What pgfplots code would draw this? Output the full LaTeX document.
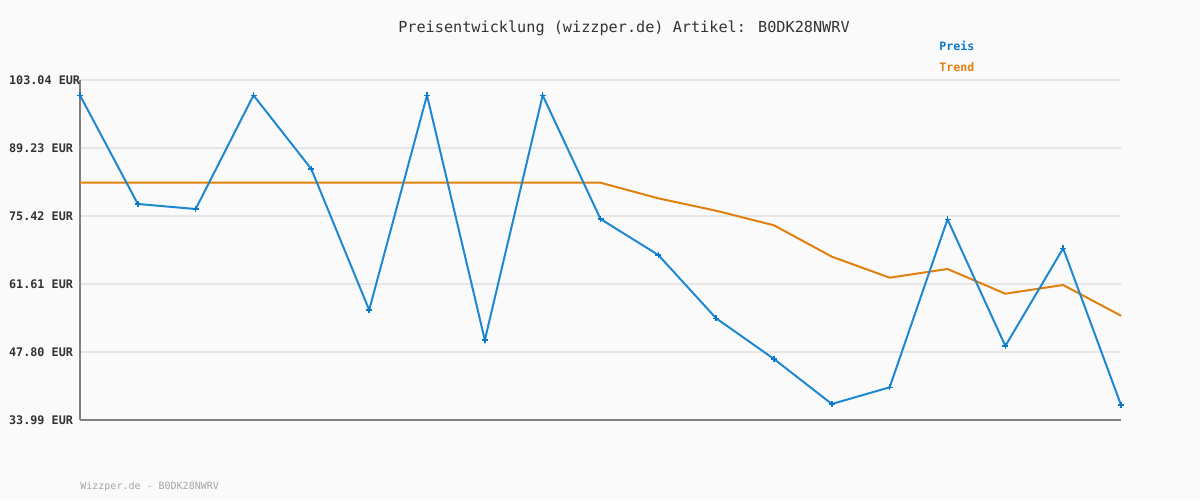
\documentclass[border=0pt]{standalone}
\usepackage{fontspec}
\usepackage{pgfplots}
\pgfplotsset{compat=1.18}
\newfontfamily\mono{DejaVu Sans Mono}
\definecolor{bg}{HTML}{FAFAFA}
\definecolor{gridc}{HTML}{E6E6E6}
\definecolor{axc}{HTML}{808080}
\definecolor{preis}{HTML}{1E88D2}
\definecolor{preislab}{HTML}{0A7AC8}
\definecolor{trend}{HTML}{E0800F}
\definecolor{txt}{HTML}{333333}
\begin{document}
\begin{tikzpicture}
\fill[bg] (0,0) rectangle (600pt,250pt);
\begin{axis}[
  at={(40pt,40pt)}, anchor=south west,
  scale only axis, width=520.5pt, height=170pt,
  xmin=0, xmax=18, ymin=33.99, ymax=103.04,
  clip=false,
  axis x line*=bottom, axis y line*=left,
  axis line style={axc, line width=1.2pt},
  x axis line style={-}, y axis line style={-},
  xtick=\empty,
  ytick={33.99,47.80,61.61,75.42,89.23,103.04},
  yticklabels={33.99 EUR,47.80 EUR,61.61 EUR,75.42 EUR,89.23 EUR,103.04 EUR},
  yticklabel style={anchor=west, xshift=-39pt, font=\mono\bfseries\fontsize{5.9pt}{6pt}\selectfont, text=txt},
  major tick length=0pt,
  ymajorgrids, grid style={gridc, line width=1pt},
]
\addplot[trend, line width=1pt] coordinates {
(0,82.18)(1,82.18)(2,82.18)(3,82.18)(4,82.18)(5,82.18)(6,82.18)(7,82.18)(8,82.18)(9,82.18)
(10,79.01)(11,76.49)(12,73.53)(13,67.16)(14,62.89)(15,64.66)(16,59.64)(17,61.41)(18,55.17)};
\addplot[preis, line width=1pt, mark=+, mark size=1.5pt, mark options={line width=0.8pt, preislab}] coordinates {
(0,99.93)(1,77.86)(2,76.84)(3,99.93)(4,84.96)(5,56.33)(6,99.93)(7,50.23)(8,99.93)(9,74.81)
(10,67.50)(11,54.64)(12,46.38)(13,37.24)(14,40.63)(15,74.74)(16,49.02)(17,68.86)(18,37.03)};
\end{axis}
\node[font=\mono\fontsize{7.6pt}{9pt}\selectfont, text=txt] at (312pt,236pt) {Preisentwicklung (wizzper.de) Artikel: B0DK28NWRV};
\node[anchor=west, inner sep=0pt, font=\mono\bfseries\fontsize{5.8pt}{6pt}\selectfont, text=preislab] at (469.5pt,227pt) {Preis};
\node[anchor=west, inner sep=0pt, font=\mono\bfseries\fontsize{5.8pt}{6pt}\selectfont, text=trend] at (469.5pt,216.5pt) {Trend};
\node[anchor=west, inner sep=0pt, font=\mono\fontsize{5pt}{6pt}\selectfont, text=black!35] at (40pt,6.5pt) {Wizzper.de - B0DK28NWRV};
\end{tikzpicture}
\end{document}
